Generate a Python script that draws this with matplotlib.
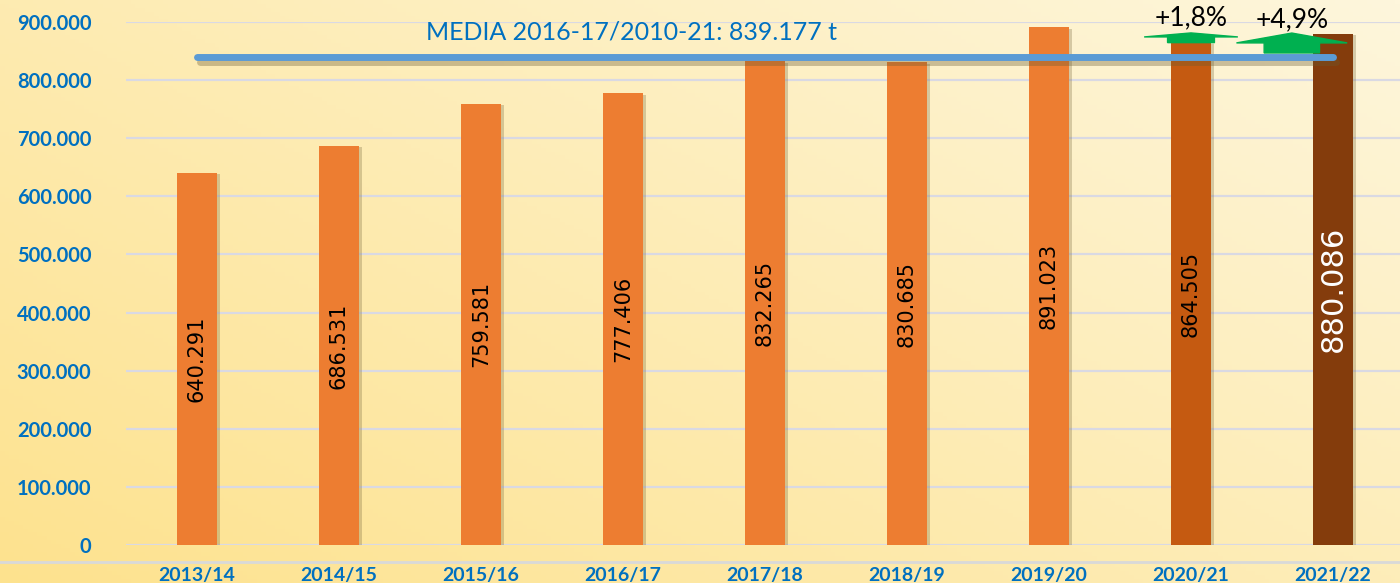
import matplotlib
matplotlib.use("Agg")
import matplotlib.pyplot as plt
import numpy as np
from matplotlib.patches import Polygon
import matplotlib.patheffects as pe

categories = ["2013/14", "2014/15", "2015/16", "2016/17", "2017/18",
              "2018/19", "2019/20", "2020/21", "2021/22"]
values = [640291, 686531, 759581, 777406, 832265, 830685, 891023, 864505, 880086]
value_labels = ["640.291", "686.531", "759.581", "777.406", "832.265",
                "830.685", "891.023", "864.505", "880.086"]
bar_colors = ["#ED7D31"] * 7 + ["#C55A11", "#843C0C"]
yticks = [0, 100000, 200000, 300000, 400000, 500000, 600000, 700000, 800000, 900000]
ytick_labels = ["0", "100.000", "200.000", "300.000", "400.000", "500.000",
                "600.000", "700.000", "800.000", "900.000"]
mean_value = 839177
mean_label = "MEDIA 2016-17/2010-21: 839.177 t"
pct_labels = ["+1,8%", "+4,9%"]

W, H = 1400, 583
fig = plt.figure(figsize=(W / 100, H / 100), dpi=100)

# background gradient
bg = fig.add_axes([0, 0, 1, 1])
xx, yy = np.meshgrid(np.linspace(0, 1, 300), np.linspace(0, 1, 150))
t = np.clip(0.55 * xx + 0.45 * yy, 0, 1)
c0 = np.array([0xFD, 0xE2, 0x8E]) / 255
c1 = np.array([0xFE, 0xF6, 0xDC]) / 255
img = c0[None, None, :] * (1 - t[..., None]) + c1[None, None, :] * t[..., None]
bg.imshow(img, origin="lower", aspect="auto", extent=[0, 1, 0, 1])
bg.set_xlim(0, 1); bg.set_ylim(0, 1)
bg.axis("off")
bg.plot([0, 1], [1 - 562 / H, 1 - 562 / H], color="#D9D9D9", lw=2)

left = 126 / W
bottom = (H - 545) / H
height = (545 - 22) / H
ax = fig.add_axes([left, bottom, 1 - left, height])
ax.patch.set_alpha(0)
ax.set_xlim(-0.5, -0.5 + (W - 126) / 142)
ax.set_ylim(0, 900000)

ax.set_yticks(yticks)
ax.set_yticklabels(ytick_labels)
ax.yaxis.grid(True, color="#D9D9E3", lw=1.6)
ax.set_axisbelow(True)
for s in ax.spines.values():
    s.set_visible(False)
ax.tick_params(axis="both", length=0)
ax.tick_params(axis="y", pad=25, labelsize=14.5, labelcolor="#0070C0")
ax.tick_params(axis="x", pad=16, labelsize=14, labelcolor="#0070C0")
for lab in ax.get_yticklabels() + ax.get_xticklabels():
    lab.set_fontfamily("Lato")
    lab.set_fontweight("bold")

x = np.arange(len(categories))
bars = ax.bar(x, values, width=0.28, color=bar_colors, zorder=3)
for b in bars:
    b.set_path_effects([pe.SimplePatchShadow(offset=(2, -1), shadow_rgbFace="#7a6a40", alpha=0.3), pe.Normal()])
ax.set_xticks(x)
ax.set_xticklabels(categories)

for i, (v, lab) in enumerate(zip(values, value_labels)):
    if i == len(values) - 1:
        ax.text(i, v / 2, lab, rotation=90, ha="center", va="center",
                color="white", fontsize=22, family="Liberation Sans Narrow", zorder=5)
    else:
        ax.text(i, v / 2, lab, rotation=90, ha="center", va="center",
                color="black", fontsize=15, family="Liberation Sans Narrow", zorder=5)

# mean line
ax.plot([0, 8], [mean_value, mean_value], color="#5B9BD5", lw=5,
        solid_capstyle="round", zorder=6,
        path_effects=[pe.SimpleLineShadow(offset=(2, -3), shadow_color="#6b5a30", alpha=0.35), pe.Normal()])
ax.text(3.06, 882000, mean_label, ha="center", va="center", color="#0070C0",
        fontsize=18, family="Lato", zorder=6)

# green arrows
def arrow(cx, base, apex, hw, sw, stem_bottom):
    pts = [(cx - hw, base), (cx, apex), (cx + hw, base), (cx + sw, base),
           (cx + sw, stem_bottom), (cx - sw, stem_bottom), (cx - sw, base)]
    ax.add_patch(Polygon(pts, closed=True, color="#00B050", zorder=7, clip_on=False))

arrow(7.0, 874300, 881200, 0.33, 0.165, 864505)
arrow(7.71, 864000, 881000, 0.39, 0.195, 846700)

ax.text(7.0, 907000, pct_labels[0], ha="center", va="center", fontsize=19,
        family="Lato", color="black", clip_on=False, zorder=8)
ax.text(7.71, 904000, pct_labels[1], ha="center", va="center", fontsize=19,
        family="Lato", color="black", clip_on=False, zorder=8)

fig.savefig("out.png", dpi=100)
